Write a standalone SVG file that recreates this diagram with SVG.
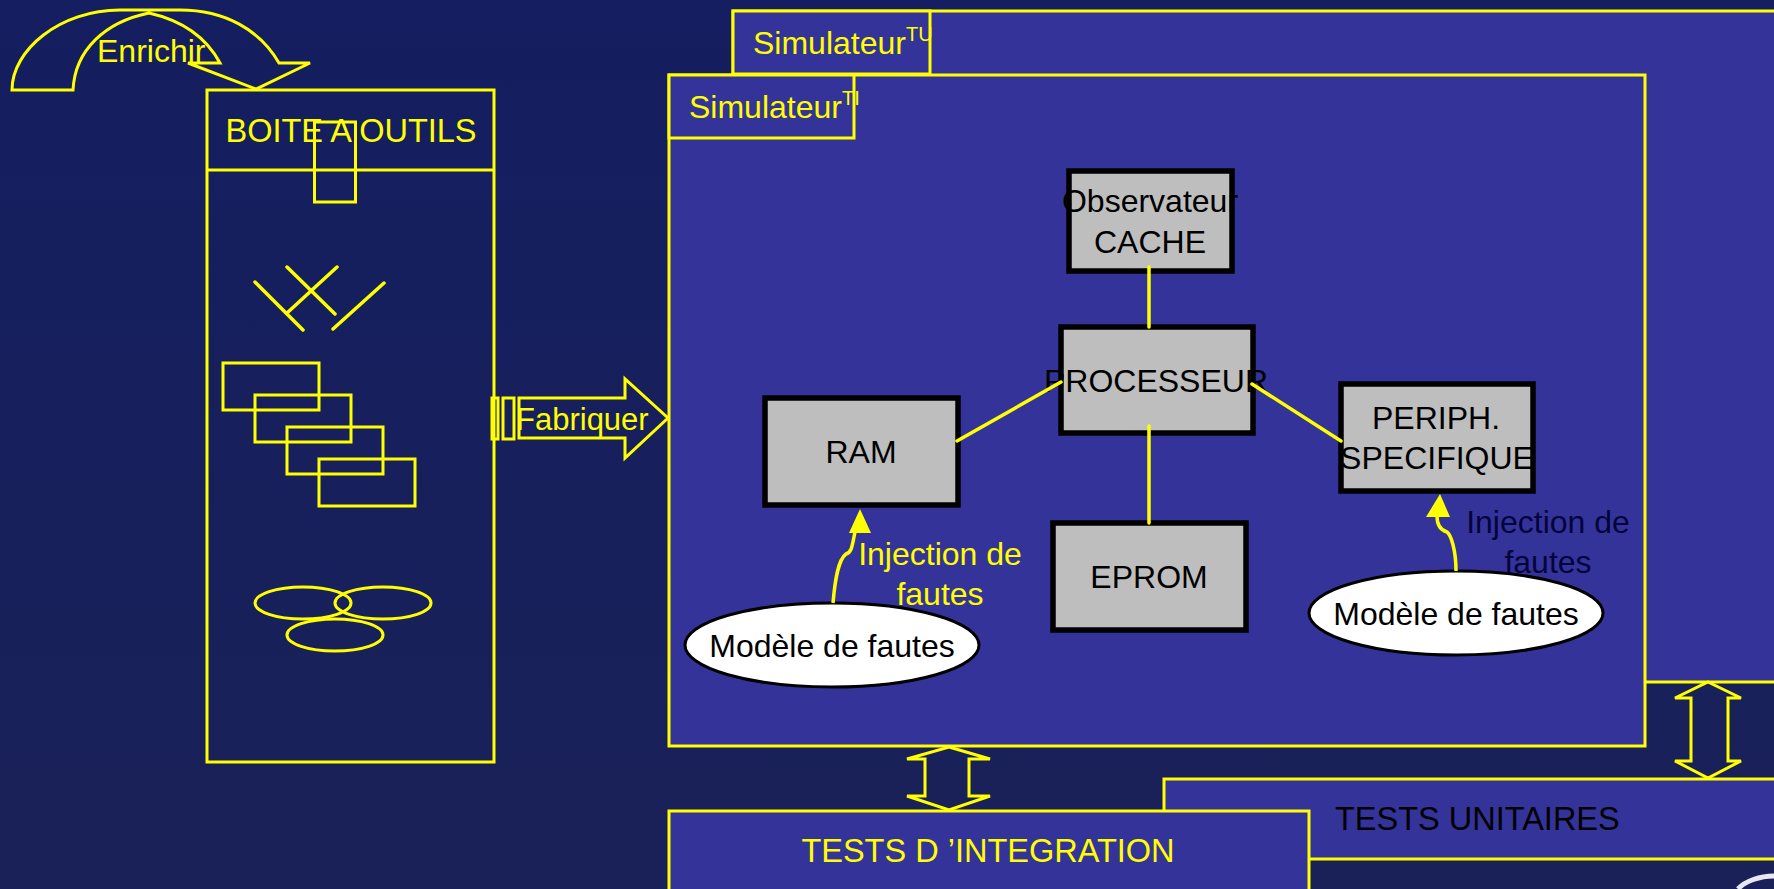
<svg xmlns="http://www.w3.org/2000/svg" width="1774" height="889" viewBox="0 0 1774 889">
<defs><linearGradient id="bg" x1="0" y1="0" x2="0" y2="1"><stop offset="0" stop-color="#141e60"/><stop offset="1" stop-color="#1a2158"/></linearGradient></defs>
<style>
text{font-family:"Liberation Sans",Arial,sans-serif;font-size:32px}
.y{fill:#ffff00}.k{fill:#000}
.c{text-anchor:middle}
.u{font-size:32.500px}
.o{fill:none;stroke:#ffff00;stroke-width:3}
.p{fill:#343399;stroke:#ffff00;stroke-width:3}
.b{fill:#bebebe;stroke:#000;stroke-width:5.500}
.e{fill:#fff;stroke:#000;stroke-width:3}
.l{fill:none;stroke:#ffff00;stroke-width:3.500;stroke-linecap:round}
</style>
<rect width="1774" height="889" fill="url(#bg)"/>
<path d="M1738 889C1745 881 1760 876 1774 876" fill="none" stroke="#e8e8f0" stroke-width="5"/>
<g id="sim-tu"><rect class="p" x="733" y="11" width="1043" height="671"/><rect class="p" x="733" y="11" width="197" height="63"/>
<text class="y" x="753" y="54">Simulateur<tspan font-size="20" dy="-13">TU</tspan></text></g>
<g id="sim-ti"><rect class="p" x="669" y="75" width="976" height="671"/><rect class="p" x="669" y="75" width="185" height="63"/>
<text class="y" x="689" y="118">Simulateur<tspan font-size="20" dy="-13">TI</tspan></text></g>
<g id="tests-u"><rect class="p" x="1164" y="779" width="612" height="80"/><text class="k u" x="1335" y="830">TESTS UNITAIRES</text></g>
<g id="tests-i"><rect class="p" x="669" y="811" width="640" height="90"/><text class="y c u" x="988" y="862">TESTS D ’INTEGRATION</text></g>
<g id="boite"><rect class="o" x="207" y="90" width="287" height="672"/><line class="o" x1="207" y1="170" x2="494" y2="170"/>
<text class="y c u" x="351" y="142">BOITE A OUTILS</text>
<rect class="o" x="314.500" y="122" width="41" height="80"/>
<path class="l" d="M255 282L303 330M287 267L335 314M287 313L337 267M333 329L384 283"/>
<rect class="o" x="223" y="363" width="96" height="47"/><rect class="o" x="255" y="395" width="96" height="47"/><rect class="o" x="287" y="427" width="96" height="47"/><rect class="o" x="319" y="459" width="96" height="47"/>
<ellipse class="o" cx="303" cy="603" rx="48" ry="16"/><ellipse class="o" cx="383" cy="603" rx="48" ry="16"/><ellipse class="o" cx="335" cy="635" rx="48" ry="16"/></g>
<g id="enrichir"><path class="o" d="M12 90C12 50 60 10 120 10L180 10C225 10 260 30 279 63L310 63L256 89L188 63L220 63C205 35 180 20 149 13C105 22 75 50 73 90Z"/>
<text class="y" x="97" y="62">Enrichir</text></g>
<g id="fabriquer"><rect class="o" x="492" y="398" width="6" height="41"/><rect class="o" x="503" y="398" width="11" height="41"/>
<path class="o" d="M519 398H625V379L668 418L625 458V438H519Z"/><text class="y" x="516" y="430" style="font-size:31px">Fabriquer</text></g>
<g id="cache"><rect class="b" x="1069" y="171" width="163" height="100"/><text class="k c" x="1150" y="212">Observateur</text><text class="k c" x="1150" y="253">CACHE</text></g>
<g id="proc"><rect class="b" x="1061" y="327" width="192" height="106"/><text class="k c" x="1156" y="392">PROCESSEUR</text></g>
<g id="ram"><rect class="b" x="765" y="398" width="193" height="107"/><text class="k c" x="861" y="463">RAM</text></g>
<g id="eprom"><rect class="b" x="1053" y="523" width="193" height="107"/><text class="k c" x="1149" y="588">EPROM</text></g>
<g id="periph"><rect class="b" x="1341" y="384" width="192" height="107"/><text class="k c" x="1436" y="429">PERIPH.</text><text class="k c" x="1437" y="469">SPECIFIQUE</text></g>
<g id="m1"><ellipse class="e" cx="832" cy="645" rx="147" ry="42"/><text class="k c" x="832" y="657">Modèle de fautes</text></g>
<g id="m2"><ellipse class="e" cx="1456" cy="613" rx="147" ry="42"/><text class="k c" x="1456" y="625">Modèle de fautes</text></g>
<text class="y c" x="940" y="565">Injection de</text><text class="y c" x="940" y="605">fautes</text>
<text x="1548" y="533" class="c" fill="#04043c">Injection de</text><text x="1548" y="573" class="c" fill="#04043c">fautes</text>
<g id="connectors"><path class="l" d="M1149 267V327M957 441L1061 382M1149 426V523M1252 384L1341 441"/>
<path d="M833 603C835 580 838 560 846 554C852 552 852 546 855 532" fill="none" stroke="#ff0" stroke-width="3.500"/><path d="M860 509L849 533H871Z" fill="#ff0"/>
<path d="M1456 571C1456 550 1451 535 1447 532C1440 530 1437 525 1437 516" fill="none" stroke="#ff0" stroke-width="3.500"/><path d="M1440 494L1426 517H1450Z" fill="#ff0"/>
<path class="o" d="M949 747L990 759H969V796H990L949 810L907 796H925V759H907Z"/>
<path class="o" d="M1708 682L1741 698H1728V761H1741L1708 778L1675 761H1691V698H1675Z"/></g>
</svg>
